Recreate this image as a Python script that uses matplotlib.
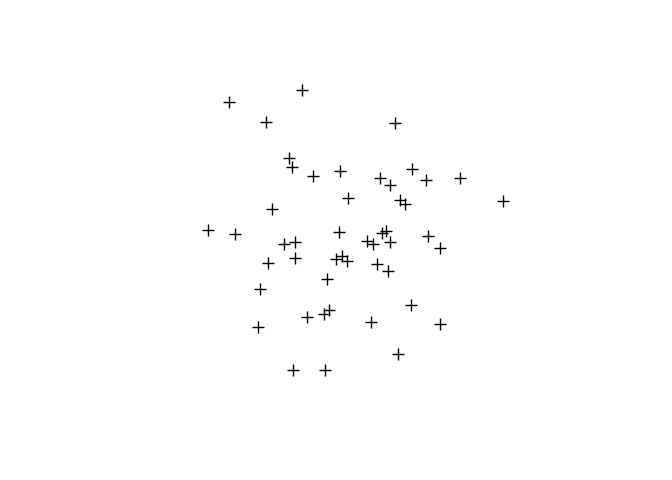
import matplotlib
matplotlib.use("Agg")
import matplotlib.pyplot as plt

# positions des points (unités arbitraires)
x = [-1.48, -0.62, -1.04, -0.78, -0.74, -0.50, -0.18, 0.47, 0.67, 0.29,
     0.41, 0.83, 1.23, 0.53, 0.58, 1.73, -0.09, -0.97, -1.73, -1.41,
     -0.83, -0.70, -0.19, -0.71, -1.02, -0.22, -0.15, -0.10, -0.33, 0.36,
     0.31, 0.14, 0.21, 0.41, 0.85, 0.99, 0.26, 0.38, -1.12, 0.65,
     -0.56, -0.36, -0.31, 0.19, 0.99, -1.14, 0.50, -0.73, -0.35]
y = [2.75, 3.00, 2.32, 1.54, 1.36, 1.17, 1.27, 2.29, 1.31, 1.11,
     0.97, 1.08, 1.11, 0.64, 0.56, 0.63, 0.70, 0.45, 0.01, -0.08,
     -0.30, -0.25, -0.04, -0.60, -0.70, -0.61, -0.54, -0.65, -1.03, -0.01,
     -0.06, -0.23, -0.28, -0.25, -0.11, -0.37, -0.72, -0.86, -1.26, -1.60,
     -1.84, -1.79, -1.69, -1.96, -1.99, -2.07, -2.63, -2.98, -2.98]

fig = plt.figure(figsize=(6.72, 4.8), dpi=100)
ax = fig.add_axes([0.1171, 0.204, 0.8229, 0.632])
ax.plot(x, y, linestyle='none', marker='+', markersize=9,
        markeredgewidth=1.0, color='black')
ax.set_xlim(-3.24, 3.24)
ax.set_ylim(-3.24, 3.24)
ax.axis('off')

fig.savefig("out.png", dpi=100, facecolor='white')
